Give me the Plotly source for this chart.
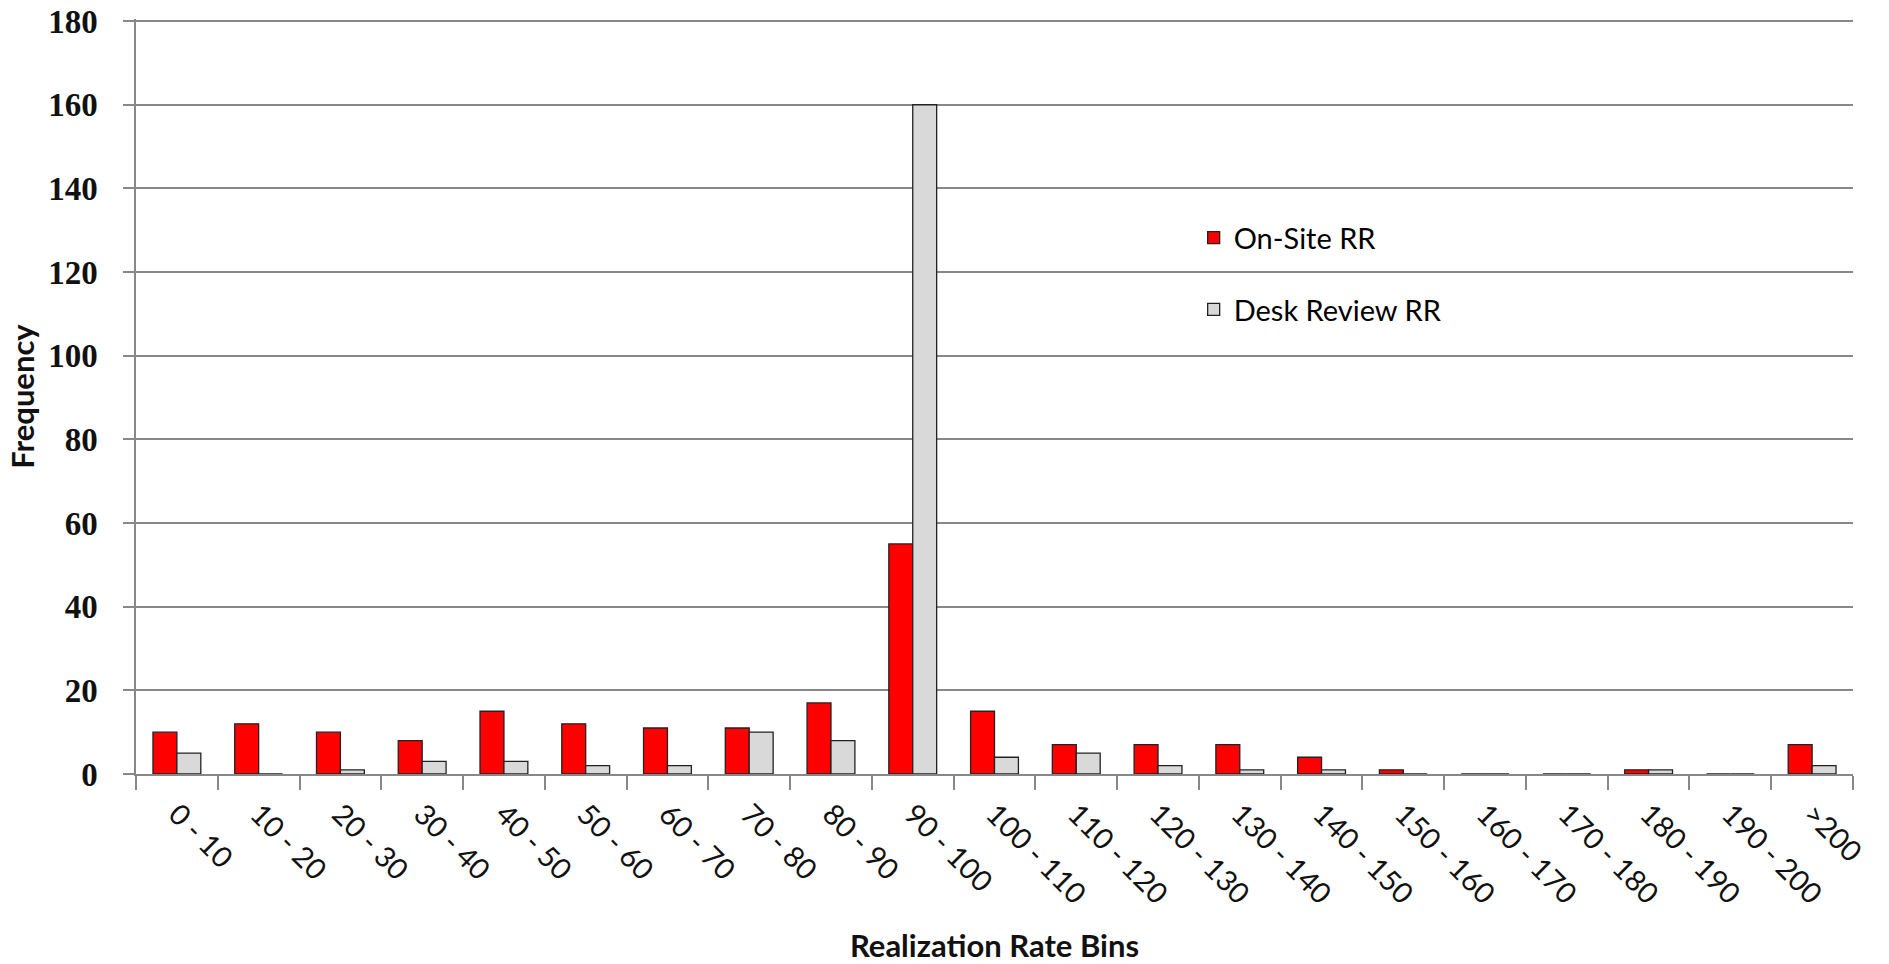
import plotly.graph_objects as go

categories = ["0 - 10", "10 - 20", "20 - 30", "30 - 40", "40 - 50", "50 - 60", "60 - 70",
              "70 - 80", "80 - 90", "90 - 100", "100 - 110", "110 - 120", "120 - 130",
              "130 - 140", "140 - 150", "150 - 160", "160 - 170", "170 - 180",
              "180 - 190", "190 - 200", ">200"]
onsite_rr = [10, 12, 10, 8, 15, 12, 11, 11, 17, 55, 15, 7, 7, 7, 4, 1, 0, 0, 1, 0, 7]
desk_rr = [5, 0, 1, 3, 3, 2, 2, 10, 8, 160, 4, 5, 2, 1, 1, 0, 0, 0, 1, 0, 2]
y_ticks = [0, 20, 40, 60, 80, 100, 120, 140, 160, 180]

fig = go.Figure()
fig.add_trace(go.Bar(x=categories, y=onsite_rr, name="On-Site RR", legendgroup="a",
                     marker=dict(color="#FF0000", line=dict(color="#222222", width=1.3))))
fig.add_trace(go.Bar(x=categories, y=desk_rr, name="Desk Review RR", legendgroup="b",
                     marker=dict(color="#D9D9D9", line=dict(color="#222222", width=1.3))))

fig.update_layout(
    width=1889, height=964,
    paper_bgcolor="white", plot_bgcolor="white",
    margin=dict(l=136, r=36, t=19, b=190),
    barmode="group", bargap=0.415, bargroupgap=0,
    showlegend=True,
    legend=dict(x=0.616, y=0.744, xanchor="left", yanchor="top",
                font=dict(family="Lato", size=29, color="black"),
                traceorder="grouped", tracegroupgap=31,
                bgcolor="rgba(0,0,0,0)"),
    xaxis=dict(
        type="category", automargin=False,
        tickangle=45,
        tickfont=dict(family="Lato", size=29, color="#111111"),
        ticks="outside", tickson="boundaries", ticklen=14, tickcolor="#888888", tickwidth=1.5,
        ticklabelstandoff=10,
        showline=True, linecolor="#888888", linewidth=1.5,
        showgrid=False,
        title=dict(text="<b>Realization Rate Bins</b>", font=dict(family="Lato", size=31, color="#111111"),
                   standoff=33),
    ),
    yaxis=dict(
        range=[0, 180.5], tickvals=y_ticks, automargin=False,
        tickfont=dict(family="Liberation Serif", size=33, color="#111111", weight="bold"),
        ticks="outside", ticklen=11, tickcolor="#888888", tickwidth=1.5,
        showline=True, linecolor="#888888", linewidth=1.5,
        showgrid=True, gridcolor="#888888", gridwidth=1.5,
        zeroline=False,
        ticklabelstandoff=19,
        title=dict(text="<b>Frequency</b>", font=dict(family="Lato", size=31, color="#111111"),
                   standoff=4),
    ),
)

fig.write_html("out.html", config={"displayModeBar": False},
               post_script="document.body.style.margin='0';")
